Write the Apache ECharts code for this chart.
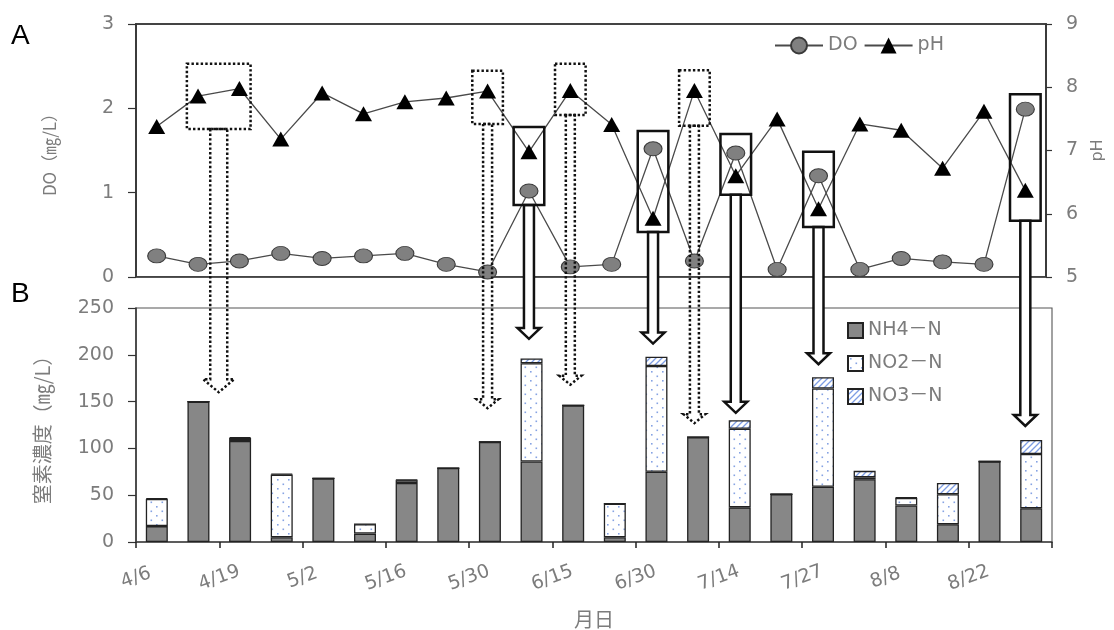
<!DOCTYPE html>
<html>
<head>
<meta charset="utf-8">
<script src="https://cdn.jsdelivr.net/npm/echarts@6/dist/echarts.min.js"></script>
<style>
  html, body { margin: 0; padding: 0; background: #fff; }
  #chart { width: 1114px; height: 630px; }
</style>
</head>
<body>
<div id="chart"></div>
<script>
// Sampling dates shown under every second sampling
const dateLabels = ['4/6', '4/19', '5/2', '5/16', '5/30', '6/15', '6/30', '7/14', '7/27', '8/8', '8/22'];

// Dissolved oxygen (mg/L) and pH per sampling
const doValues = [0.25, 0.15, 0.19, 0.28, 0.22, 0.25, 0.28, 0.15, 0.06, 1.02, 0.12,
                  0.15, 1.52, 0.19, 1.47, 0.09, 1.20, 0.09, 0.22, 0.18, 0.15, 1.99];
const phValues = [7.38, 7.86, 7.98, 7.18, 7.91, 7.58, 7.77, 7.83, 7.94, 6.98, 7.95,
                  7.41, 5.93, 7.95, 6.60, 7.50, 6.08, 7.42, 7.32, 6.72, 7.62, 6.37];

// Nitrogen species (mg/L) per sampling
const nh4 = [17, 150, 108, 5, 68, 9, 63, 79, 107, 86, 146, 5, 75, 112, 37, 51, 59, 67, 39, 19, 86, 36];
const no2 = [29, 0, 3, 67, 0, 10, 3, 0, 0, 105, 0, 36, 113, 0, 84, 0, 105, 2, 8, 32, 0, 58];
const no3 = [0.8, 0, 1, 1, 0, 0, 0.5, 0, 0, 5, 0, 0, 10, 0, 9, 0, 12, 7, 0.5, 12, 0, 15];

// Callouts: [first sampling, last sampling, pH low, pH high, arrow tip (mg/L)]
const dottedCallouts = [
  [1, 2, 7.34, 8.37, 160],
  [8, 8, 7.42, 8.26, 143],
  [10, 10, 7.56, 8.37, 168],
  [13, 13, 7.39, 8.27, 127]
];
const solidCallouts = [
  [9, 9, 6.14, 7.37, 217],
  [12, 12, 5.71, 7.31, 212],
  [14, 14, 6.30, 7.26, 138],
  [16, 16, 5.79, 6.98, 190],
  [21, 21, 5.89, 7.89, 124]
];

// One slot per sampling for the bar axis
const samplingNo = nh4.map((_, i) => String(i + 1));

const NUM_FONT = "'DejaVu Sans', 'Noto Sans CJK JP', sans-serif";
const JP_FONT = "'Noto Sans CJK JP', 'DejaVu Sans', sans-serif";
const TEXT_GRAY = '#7c7c7c';

function dotPattern() {
  const c = document.createElement('canvas');
  c.width = 11; c.height = 9;
  const g = c.getContext('2d');
  g.fillStyle = '#ffffff';
  g.fillRect(0, 0, 11, 9);
  g.fillStyle = '#86a3e3';
  g.fillRect(2, 2, 1.6, 1.6);
  g.fillRect(7.5, 6.5, 1.6, 1.6);
  return c;
}
function hatchPattern() {
  const c = document.createElement('canvas');
  c.width = 6; c.height = 6;
  const g = c.getContext('2d');
  g.fillStyle = '#ffffff';
  g.fillRect(0, 0, 6, 6);
  g.strokeStyle = '#7d9de4';
  g.lineWidth = 1.3;
  g.beginPath();
  g.moveTo(-1, 7); g.lineTo(7, -1);
  g.moveTo(-2, 2); g.lineTo(2, -2);
  g.moveTo(4, 8); g.lineTo(8, 4);
  g.stroke();
  return c;
}

const at = (arr) => arr.map((v, i) => [i + 0.5, v]);
const barBorder = { borderColor: '#222', borderWidth: 1.3 };

const chart = echarts.init(document.getElementById('chart'), null, { renderer: 'canvas' });

const option = {
  animation: false,
  backgroundColor: '#fff',
  grid: [
    { left: 136, right: 62, top: 24, height: 253, show: true, borderColor: '#444', borderWidth: 1.8 },
    { left: 136, right: 62, top: 308, height: 237, show: true, borderColor: '#555', borderWidth: 1.1 }
  ],
  legend: [
    {
      data: ['DO', 'pH'],
      left: 774, top: 36,
      itemWidth: 48, itemHeight: 20, itemGap: 6, padding: 0,
      textStyle: { fontSize: 19, color: TEXT_GRAY, fontFamily: NUM_FONT }
    },
    {
      data: ['NH4－N', 'NO2－N', 'NO3－N'],
      orient: 'vertical',
      left: 847, top: 321,
      itemWidth: 15, itemHeight: 15, itemGap: 14, padding: 0,
      icon: 'rect',
      textStyle: { fontSize: 19, color: TEXT_GRAY, fontFamily: NUM_FONT }
    }
  ],
  xAxis: [
    {
      gridIndex: 0, type: 'value', min: 0, max: 22,
      axisLine: { show: true, lineStyle: { color: '#555', width: 1 } },
      axisTick: { show: false }, axisLabel: { show: false }, splitLine: { show: false }
    },
    {
      // date ticks and labels, one every two samplings
      gridIndex: 1, type: 'value', min: 0, max: 22, interval: 2,
      axisLine: { show: true, lineStyle: { color: '#444', width: 1.5 } },
      axisTick: { show: true, length: 6, lineStyle: { color: '#222', width: 1.5 } },
      axisLabel: {
        formatter: (v) => dateLabels[Math.round(v / 2)] ?? '',
        rotate: 20, align: 'center', verticalAlign: 'middle', margin: 36,
        color: TEXT_GRAY, fontSize: 19, fontFamily: NUM_FONT
      },
      splitLine: { show: false },
      name: '月日', nameLocation: 'middle', nameGap: 67,
      nameTextStyle: { color: TEXT_GRAY, fontSize: 20, fontFamily: JP_FONT }
    },
    {
      // slots for the stacked nitrogen bars
      gridIndex: 1, type: 'category', data: samplingNo, boundaryGap: true, show: false
    }
  ],
  yAxis: [
    {
      gridIndex: 0, type: 'value', min: 0, max: 3, interval: 1,
      axisLine: { show: true, lineStyle: { color: '#333', width: 1.5 } },
      axisTick: { show: true, length: 8, lineStyle: { color: '#333', width: 1.2 } },
      axisLabel: { margin: 22, color: TEXT_GRAY, fontSize: 19, fontFamily: NUM_FONT },
      splitLine: { show: false },
      name: 'DO（㎎/L）', nameLocation: 'middle', nameRotate: 90, nameGap: 78,
      nameTextStyle: { color: TEXT_GRAY, fontSize: 17, fontFamily: JP_FONT }
    },
    {
      gridIndex: 0, type: 'value', position: 'right', min: 5, max: 9, interval: 1,
      axisLine: { show: true, lineStyle: { color: '#333', width: 1.5 } },
      axisTick: { show: true, length: 6, lineStyle: { color: '#333', width: 1.2 } },
      axisLabel: { margin: 20, color: TEXT_GRAY, fontSize: 19, fontFamily: NUM_FONT },
      splitLine: { show: false },
      name: 'pH', nameLocation: 'middle', nameRotate: 90, nameGap: 44,
      nameTextStyle: { color: TEXT_GRAY, fontSize: 16, fontFamily: NUM_FONT }
    },
    {
      gridIndex: 1, type: 'value', min: 0, max: 250, interval: 50,
      axisLine: { show: true, lineStyle: { color: '#333', width: 1.5 } },
      axisTick: { show: true, length: 8, lineStyle: { color: '#333', width: 1.2 } },
      axisLabel: { margin: 22, color: TEXT_GRAY, fontSize: 19, fontFamily: NUM_FONT },
      splitLine: { show: false },
      name: '窒素濃度（㎎/L）', nameLocation: 'middle', nameRotate: 90, nameGap: 84,
      nameTextStyle: { color: TEXT_GRAY, fontSize: 20, fontFamily: JP_FONT }
    }
  ],
  series: [
    {
      name: 'NH4－N', type: 'bar', xAxisIndex: 2, yAxisIndex: 2, stack: 'N', barWidth: 22,
      data: nh4,
      itemStyle: Object.assign({ color: '#878787' }, barBorder)
    },
    {
      name: 'NO2－N', type: 'bar', xAxisIndex: 2, yAxisIndex: 2, stack: 'N', barWidth: 22,
      data: no2,
      itemStyle: Object.assign({ color: { image: dotPattern(), repeat: 'repeat' } }, barBorder)
    },
    {
      name: 'NO3－N', type: 'bar', xAxisIndex: 2, yAxisIndex: 2, stack: 'N', barWidth: 22,
      data: no3,
      itemStyle: Object.assign({ color: { image: hatchPattern(), repeat: 'repeat' } }, barBorder)
    },
    {
      name: 'DO', type: 'line', xAxisIndex: 0, yAxisIndex: 0,
      data: at(doValues),
      symbol: 'circle', symbolSize: [18, 14],
      itemStyle: { color: '#808080', borderColor: '#3a3a3a', borderWidth: 1 },
      lineStyle: { color: '#4a4a4a', width: 1.3 },
      z: 3
    },
    {
      name: 'pH', type: 'line', xAxisIndex: 0, yAxisIndex: 1,
      data: at(phValues),
      symbol: 'triangle', symbolSize: [17, 15],
      itemStyle: { color: '#000' },
      lineStyle: { color: '#4a4a4a', width: 1.3 },
      z: 3
    }
  ]
};

chart.setOption(option);

// Callout boxes around the pH / DO readings with arrows down to the nitrogen bars
function calloutGraphics(list, dotted) {
  const out = [];
  list.forEach(([first, last, lo, hi, tip]) => {
    const pad = first === last ? 0.37 : 0.27;
    const p1 = chart.convertToPixel({ xAxisIndex: 0, yAxisIndex: 1 }, [first + 0.5 - pad, hi]);
    const p2 = chart.convertToPixel({ xAxisIndex: 0, yAxisIndex: 1 }, [last + 0.5 + pad, lo]);
    const cx = (p1[0] + p2[0]) / 2;
    const cxData = (first + last + 1) / 2;
    const tipY = chart.convertToPixel({ xAxisIndex: 1, yAxisIndex: 2 }, [cxData, tip])[1];
    const gap = dotted ? (first === last ? 4.5 : 8.5) : 5;
    const wing = gap + (first === last ? 6.5 : 7);
    const head = dotted ? (first === last ? 9 : 13) : 11;
    const dash = dotted ? [2.4, 2.2] : null;
    const stroke = '#111';
    out.push({
      type: 'polygon', z: 100,
      shape: { points: [
        [cx - gap, p2[1]], [cx - gap, tipY - head], [cx - wing, tipY - head], [cx, tipY],
        [cx + wing, tipY - head], [cx + gap, tipY - head], [cx + gap, p2[1]]
      ] },
      style: { fill: dotted ? 'rgba(0,0,0,0)' : '#fff', stroke: stroke, lineWidth: 2.5, lineDash: dash }
    });
    out.push({
      type: 'rect', z: 101,
      shape: { x: p1[0], y: p1[1], width: p2[0] - p1[0], height: p2[1] - p1[1] },
      style: { fill: 'rgba(0,0,0,0)', stroke: stroke, lineWidth: 2.5, lineDash: dash }
    });
  });
  return out;
}

const graphics = []
  .concat(calloutGraphics(dottedCallouts, true))
  .concat(calloutGraphics(solidCallouts, false));

graphics.push(
  { type: 'text', left: 11, top: 22, z: 110,
    style: { text: 'A', fill: '#000', font: "28px 'Liberation Sans', Arial, sans-serif" } },
  { type: 'text', left: 11, top: 280, z: 110,
    style: { text: 'B', fill: '#000', font: "28px 'Liberation Sans', Arial, sans-serif" } }
);

chart.setOption({ graphic: graphics });
</script>
</body>
</html>
